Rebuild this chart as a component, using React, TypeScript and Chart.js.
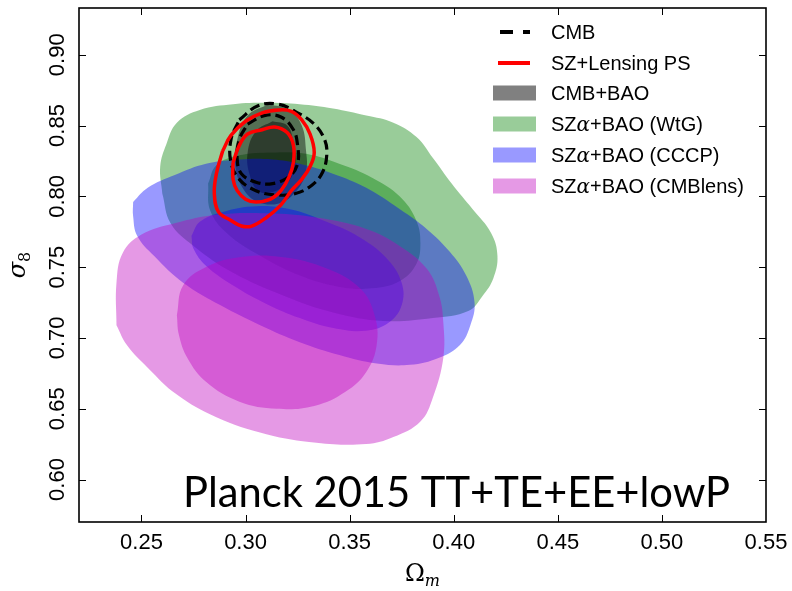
import { useEffect, useRef } from "react";
import { Chart, registerables } from "chart.js";

Chart.register(...registerables);

// ---- axes ----
const X_MIN = 0.22;
const X_MAX = 0.55;
const Y_MIN = 0.57;
const Y_MAX = 0.933;
const xTickValues = [0.25, 0.3, 0.35, 0.4, 0.45, 0.5, 0.55];
const yTickValues = [0.6, 0.65, 0.7, 0.75, 0.8, 0.85, 0.9];
const xAxisLabel = "Ω";
const xAxisSub = "m";
const yAxisLabel = "σ";
const yAxisSub = "8";
const annotation = "Planck 2015 TT+TE+EE+lowP";

// ---- contours [Ωm, σ8] ----
const wtgOuter = [
  [0.26, 0.802], [0.259, 0.821], [0.262, 0.837], [0.267, 0.852], [0.278, 0.861], [0.294, 0.865],
  [0.31, 0.866], [0.326, 0.865], [0.342, 0.862], [0.358, 0.857], [0.371, 0.852], [0.382, 0.842],
  [0.39, 0.827], [0.399, 0.809], [0.409, 0.791], [0.418, 0.774], [0.421, 0.758], [0.419, 0.742],
  [0.414, 0.73], [0.407, 0.719], [0.39, 0.714], [0.366, 0.712], [0.342, 0.718], [0.318, 0.73],
  [0.294, 0.746], [0.275, 0.765], [0.264, 0.781],
];
const wtgInner = [
  [0.282, 0.809], [0.286, 0.822], [0.297, 0.829], [0.313, 0.831], [0.329, 0.83], [0.345, 0.823],
  [0.361, 0.813], [0.374, 0.8], [0.382, 0.783], [0.384, 0.767], [0.382, 0.752], [0.374, 0.74],
  [0.361, 0.735], [0.345, 0.736], [0.326, 0.744], [0.307, 0.758], [0.291, 0.774], [0.283, 0.79],
];
const cccpOuter = [
  [0.246, 0.796], [0.253, 0.806], [0.266, 0.815], [0.281, 0.823], [0.297, 0.826], [0.313, 0.826],
  [0.326, 0.823], [0.342, 0.816], [0.358, 0.806], [0.374, 0.791], [0.387, 0.777], [0.398, 0.761],
  [0.406, 0.744], [0.41, 0.725], [0.408, 0.709], [0.403, 0.695], [0.393, 0.686], [0.379, 0.681],
  [0.363, 0.682], [0.345, 0.688], [0.326, 0.697], [0.307, 0.709], [0.288, 0.723], [0.27, 0.739],
  [0.256, 0.758], [0.248, 0.772], [0.246, 0.786],
];
const cccpInner = [
  [0.274, 0.772], [0.278, 0.782], [0.289, 0.789], [0.305, 0.793], [0.321, 0.791], [0.339, 0.782],
  [0.355, 0.771], [0.368, 0.756], [0.375, 0.739], [0.375, 0.723], [0.369, 0.711], [0.358, 0.705],
  [0.342, 0.707], [0.326, 0.714], [0.31, 0.724], [0.294, 0.737], [0.281, 0.751], [0.275, 0.763],
];
const cmblensOuter = [
  [0.238, 0.709], [0.238, 0.739], [0.241, 0.76], [0.25, 0.773], [0.266, 0.781], [0.286, 0.787],
  [0.31, 0.788], [0.334, 0.785], [0.358, 0.777], [0.374, 0.765], [0.387, 0.749], [0.393, 0.73],
  [0.395, 0.711], [0.395, 0.686], [0.39, 0.658], [0.384, 0.641], [0.371, 0.63], [0.358, 0.625],
  [0.334, 0.626], [0.31, 0.632], [0.286, 0.644], [0.267, 0.66], [0.253, 0.679], [0.243, 0.695],
];
const cmblensInner = [
  [0.267, 0.716], [0.27, 0.737], [0.281, 0.75], [0.297, 0.757], [0.318, 0.757], [0.339, 0.749],
  [0.355, 0.735], [0.362, 0.716], [0.363, 0.695], [0.358, 0.676], [0.348, 0.662], [0.333, 0.652],
  [0.315, 0.65], [0.297, 0.655], [0.281, 0.669], [0.272, 0.686], [0.268, 0.702],
];
const cmbBaoOuter = [
  [0.311, 0.865], [0.321, 0.861], [0.327, 0.85], [0.329, 0.833], [0.329, 0.817], [0.324, 0.803],
  [0.316, 0.795], [0.306, 0.796], [0.299, 0.805], [0.295, 0.822], [0.296, 0.84], [0.301, 0.857],
];
const cmbBaoInner = [
  [0.313, 0.853], [0.32, 0.85], [0.323, 0.838], [0.324, 0.824], [0.321, 0.811], [0.313, 0.803],
  [0.306, 0.804], [0.302, 0.815], [0.301, 0.831], [0.305, 0.846],
];
const cmbOuter = [
  [0.297, 0.854], [0.306, 0.864], [0.316, 0.865], [0.325, 0.859], [0.333, 0.851], [0.338, 0.84],
  [0.339, 0.829], [0.337, 0.817], [0.332, 0.808], [0.324, 0.802], [0.314, 0.801], [0.305, 0.804],
  [0.297, 0.812], [0.293, 0.824], [0.293, 0.84],
];
const cmbInner = [
  [0.301, 0.851], [0.309, 0.857], [0.317, 0.856], [0.323, 0.847], [0.325, 0.836], [0.325, 0.823],
  [0.321, 0.814], [0.313, 0.809], [0.305, 0.81], [0.298, 0.816], [0.296, 0.826], [0.297, 0.84],
];
const szLensOuter = [
  [0.289, 0.832], [0.293, 0.843], [0.3, 0.853], [0.308, 0.859], [0.316, 0.861], [0.322, 0.86],
  [0.327, 0.854], [0.331, 0.844], [0.333, 0.831], [0.331, 0.821], [0.327, 0.812], [0.322, 0.804],
  [0.317, 0.794], [0.31, 0.785], [0.303, 0.779], [0.298, 0.779], [0.293, 0.783], [0.287, 0.789],
  [0.285, 0.802], [0.286, 0.816],
];
const szLensInner = [
  [0.294, 0.824], [0.297, 0.836], [0.301, 0.844], [0.308, 0.847], [0.314, 0.849], [0.32, 0.845],
  [0.323, 0.836], [0.323, 0.824], [0.321, 0.814], [0.317, 0.804], [0.312, 0.798], [0.305, 0.796],
  [0.3, 0.798], [0.296, 0.804], [0.294, 0.812],
];

// ---- legend ----
const legendLabels = [
  "CMB",
  "SZ+Lensing PS",
  "CMB+BAO",
  "SZα+BAO (WtG)",
  "SZα+BAO (CCCP)",
  "SZα+BAO (CMBlens)",
];
const legendSwatches = ["#808080", "#99cc99", "#9999ff", "#e599e5"];

const GREEN = "rgba(0,128,0,0.4)";
const BLUE = "rgba(0,0,255,0.4)";
const MAGENTA = "rgba(191,0,191,0.4)";
const GRAY = "rgba(0,0,0,0.45)";

const closed = (pts: number[][]) => [...pts, pts[0]].map(([x, y]) => ({ x, y }));

const filled = (pts: number[][], color: string, order: number) => ({
  data: closed(pts),
  showLine: true,
  fill: "shape",
  backgroundColor: color,
  borderColor: "rgba(0,0,0,0)",
  borderWidth: 0,
  pointRadius: 0,
  tension: 0.4,
  order,
});

const stroked = (pts: number[][], color: string, width: number, dash: number[], order: number) => ({
  data: closed(pts),
  showLine: true,
  fill: false,
  backgroundColor: "rgba(0,0,0,0)",
  borderColor: color,
  borderWidth: width,
  borderDash: dash,
  pointRadius: 0,
  tension: 0.4,
  order,
});

const SANS = "'Liberation Sans', Arial, sans-serif";
const SERIF = "'DejaVu Serif', 'Liberation Serif', serif";

function drawRuns(ctx: CanvasRenderingContext2D, text: string, x: number, y: number) {
  const parts = text.split("α");
  let cx = x;
  parts.forEach((p, i) => {
    ctx.font = `20px ${SANS}`;
    ctx.fillText(p, cx, y);
    cx += ctx.measureText(p).width;
    if (i < parts.length - 1) {
      ctx.font = `italic 20px ${SERIF}`;
      ctx.fillText("α", cx, y);
      cx += ctx.measureText("α").width;
    }
  });
}

const decor = {
  id: "decor",
  afterDraw(chart: any) {
    const { ctx, chartArea: a, scales } = chart;
    const xs = scales.x;
    const ys = scales.y;
    ctx.save();
    // frame
    ctx.strokeStyle = "#000";
    ctx.lineWidth = 1.6;
    ctx.setLineDash([]);
    ctx.strokeRect(a.left, a.top, a.right - a.left, a.bottom - a.top);
    // ticks (inward, all sides)
    ctx.lineWidth = 1;
    ctx.beginPath();
    for (const v of xTickValues) {
      const px = Math.round(xs.getPixelForValue(v)) + 0.5;
      if (px <= a.left + 2 || px >= a.right - 2) continue;
      ctx.moveTo(px, a.bottom);
      ctx.lineTo(px, a.bottom - 7);
      ctx.moveTo(px, a.top);
      ctx.lineTo(px, a.top + 7);
    }
    for (const v of yTickValues) {
      const py = Math.round(ys.getPixelForValue(v)) + 0.5;
      if (py <= a.top + 2 || py >= a.bottom - 2) continue;
      ctx.moveTo(a.left, py);
      ctx.lineTo(a.left + 7, py);
      ctx.moveTo(a.right, py);
      ctx.lineTo(a.right - 7, py);
    }
    ctx.stroke();
    // tick labels
    ctx.fillStyle = "#000";
    ctx.font = `22px ${SANS}`;
    ctx.textAlign = "center";
    ctx.textBaseline = "middle";
    for (const v of xTickValues) {
      ctx.fillText(v.toFixed(2), xs.getPixelForValue(v), a.bottom + 21);
    }
    for (const v of yTickValues) {
      ctx.save();
      ctx.translate(a.left - 21, ys.getPixelForValue(v));
      ctx.rotate(-Math.PI / 2);
      ctx.fillText(v.toFixed(2), 0, 0);
      ctx.restore();
    }
    // axis labels
    ctx.textAlign = "left";
    ctx.textBaseline = "alphabetic";
    {
      ctx.font = `24px ${SERIF}`;
      const w1 = ctx.measureText(xAxisLabel).width;
      ctx.font = `italic 16px ${SERIF}`;
      const w2 = ctx.measureText(xAxisSub).width;
      const cx = (a.left + a.right) / 2 - (w1 + w2) / 2;
      const by = a.bottom + 59;
      ctx.font = `24px ${SERIF}`;
      ctx.fillText(xAxisLabel, cx, by);
      ctx.font = `italic 16px ${SERIF}`;
      ctx.fillText(xAxisSub, cx + w1, by + 5);
    }
    {
      ctx.save();
      ctx.translate(a.left - 54, (a.top + a.bottom) / 2);
      ctx.rotate(-Math.PI / 2);
      ctx.font = `italic 24px ${SERIF}`;
      const w1 = ctx.measureText(yAxisLabel).width;
      ctx.font = `16px ${SERIF}`;
      const w2 = ctx.measureText(yAxisSub).width;
      const sx = -(w1 + w2) / 2;
      ctx.font = `italic 24px ${SERIF}`;
      ctx.fillText(yAxisLabel, sx, 0);
      ctx.font = `16px ${SERIF}`;
      ctx.fillText(yAxisSub, sx + w1, 5);
      ctx.restore();
    }
    // legend
    const rowY = [32, 63, 93, 124, 155, 186];
    const mx0 = 493;
    const mx1 = 536;
    legendLabels.forEach((lab, i) => {
      const y = rowY[i];
      if (i === 0) {
        ctx.strokeStyle = "#000";
        ctx.lineWidth = 4;
        ctx.setLineDash([13, 10]);
        ctx.beginPath();
        ctx.moveTo(500, y);
        ctx.lineTo(530, y);
        ctx.stroke();
        ctx.setLineDash([]);
      } else if (i === 1) {
        ctx.strokeStyle = "#ff0000";
        ctx.lineWidth = 4;
        ctx.beginPath();
        ctx.moveTo(498, y);
        ctx.lineTo(530, y);
        ctx.stroke();
      } else {
        ctx.fillStyle = legendSwatches[i - 2];
        ctx.fillRect(mx0, y - 7.5, mx1 - mx0, 15);
      }
      ctx.fillStyle = "#000";
      drawRuns(ctx, lab, 551, y + 7);
    });
    // annotation
    ctx.font = `42px Lato, 'Open Sans', sans-serif`;
    const w = ctx.measureText(annotation).width;
    const size = (42 * 547) / w;
    ctx.font = `${size.toFixed(1)}px Lato, 'Open Sans', sans-serif`;
    ctx.fillStyle = "#000";
    ctx.fillText(annotation, 183, 507);
    ctx.restore();
  },
};

export default function App() {
  const ref = useRef<HTMLCanvasElement | null>(null);
  useEffect(() => {
    if (!ref.current) return;
    const chart = new Chart(ref.current, {
      type: "scatter",
      data: {
        datasets: [
          filled(wtgOuter, GREEN, 20),
          filled(wtgInner, GREEN, 19),
          filled(cmbBaoOuter, GRAY, 18),
          filled(cmbBaoInner, GRAY, 17),
          filled(cccpOuter, BLUE, 16),
          filled(cccpInner, BLUE, 15),
          filled(cmblensOuter, MAGENTA, 14),
          filled(cmblensInner, MAGENTA, 13),
          stroked(cmbOuter, "#000", 3.2, [10, 5], 4),
          stroked(cmbInner, "#000", 3.2, [10, 5], 3),
          stroked(szLensOuter, "#ff0000", 3.5, [], 2),
          stroked(szLensInner, "#ff0000", 3.5, [], 1),
        ] as any,
      },
      options: {
        animation: false,
        responsive: false,
        maintainAspectRatio: false,
        devicePixelRatio: 1,
        layout: { padding: { left: 79, right: 26, top: 8, bottom: 69 } },
        scales: {
          x: { type: "linear", min: X_MIN, max: X_MAX, display: false },
          y: { type: "linear", min: Y_MIN, max: Y_MAX, display: false },
        },
        plugins: { legend: { display: false }, tooltip: { enabled: false } },
        events: [],
      },
      plugins: [decor],
    });
    return () => chart.destroy();
  }, []);
  return (
    <div style={{ position: "absolute", left: 0, top: 0, width: 792, height: 591, background: "#fff" }}>
      <canvas ref={ref} width={792} height={591} style={{ width: 792, height: 591 }} />
    </div>
  );
}
